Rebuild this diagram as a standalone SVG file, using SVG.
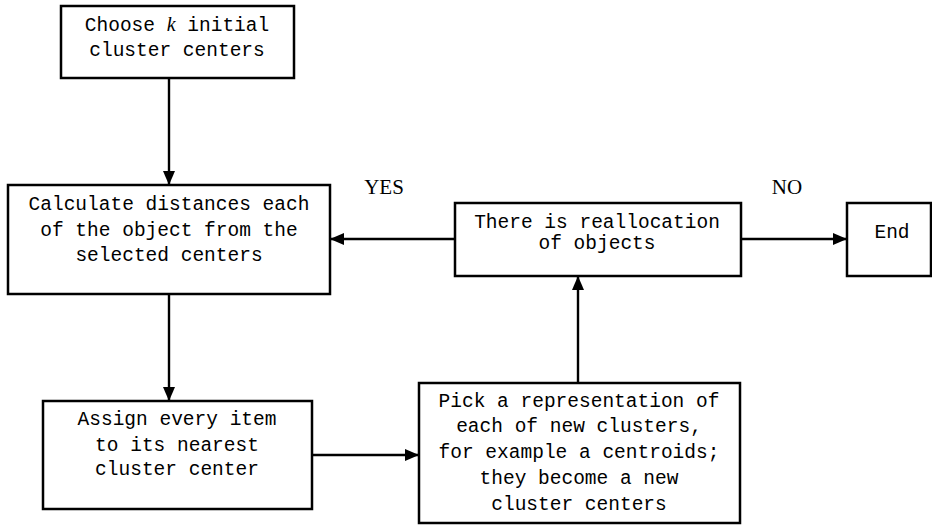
<svg xmlns="http://www.w3.org/2000/svg" width="932" height="526" viewBox="0 0 932 526">
<style>
.box{fill:#fff;stroke:#000;stroke-width:2.5}
.t{font-family:"Liberation Mono","Courier New",monospace;font-size:19.5px;fill:#000;text-anchor:middle}
.lbl{font-family:"Liberation Serif","Times New Roman",serif;font-size:21px;fill:#000;text-anchor:middle}
.c{stroke:#000;stroke-width:2.4;fill:none;marker-end:url(#ah)}
</style>
<defs>
<marker id="ah" markerUnits="userSpaceOnUse" markerWidth="14" markerHeight="14" viewBox="0 0 14 14" refX="14" refY="7" orient="auto">
<path d="M0,1 L14,7 L0,13 Z" fill="#000"/>
</marker>
</defs>
<rect width="932" height="526" fill="#fff"/>
<g id="connectors">
<line class="c" x1="169" y1="78" x2="169" y2="185"/>
<line class="c" x1="169" y1="294" x2="169" y2="401"/>
<line class="c" x1="312" y1="455" x2="419" y2="455"/>
<line class="c" x1="578" y1="383" x2="578" y2="276"/>
<line class="c" x1="455" y1="239" x2="330" y2="239"/>
<line class="c" x1="741" y1="239" x2="847" y2="239"/>
<text class="lbl" x="384" y="194">YES</text>
<text class="lbl" x="787" y="194">NO</text>
</g>
<g id="n1">
<rect class="box" x="61" y="6" width="233" height="72"/>
<text class="t" x="177" y="31">Choose <tspan font-family="Liberation Serif, serif" font-style="italic" font-size="20px">k</tspan> initial</text>
<text class="t" x="177" y="56">cluster centers</text>
</g>
<g id="n2">
<rect class="box" x="8" y="185" width="322" height="109"/>
<text class="t" x="169" y="210">Calculate distances each</text>
<text class="t" x="169" y="236">of the object from the</text>
<text class="t" x="169" y="261">selected centers</text>
</g>
<g id="n3">
<rect class="box" x="455" y="203" width="286" height="73"/>
<text class="t" x="597" y="228">There is reallocation</text>
<text class="t" x="597" y="249">of objects</text>
</g>
<g id="n4">
<rect class="box" x="847" y="203" width="84" height="73"/>
<text class="t" x="892" y="238">End</text>
</g>
<g id="n5">
<rect class="box" x="43" y="401" width="269" height="108"/>
<text class="t" x="177" y="425">Assign every item</text>
<text class="t" x="177" y="451">to its nearest</text>
<text class="t" x="177" y="475">cluster center</text>
</g>
<g id="n6">
<rect class="box" x="419" y="383" width="321" height="140"/>
<text class="t" x="579" y="407">Pick a representation of</text>
<text class="t" x="579" y="432">each of new clusters,</text>
<text class="t" x="579" y="458">for example a centroids;</text>
<text class="t" x="579" y="484">they become a new</text>
<text class="t" x="579" y="510">cluster centers</text>
</g>
</svg>
